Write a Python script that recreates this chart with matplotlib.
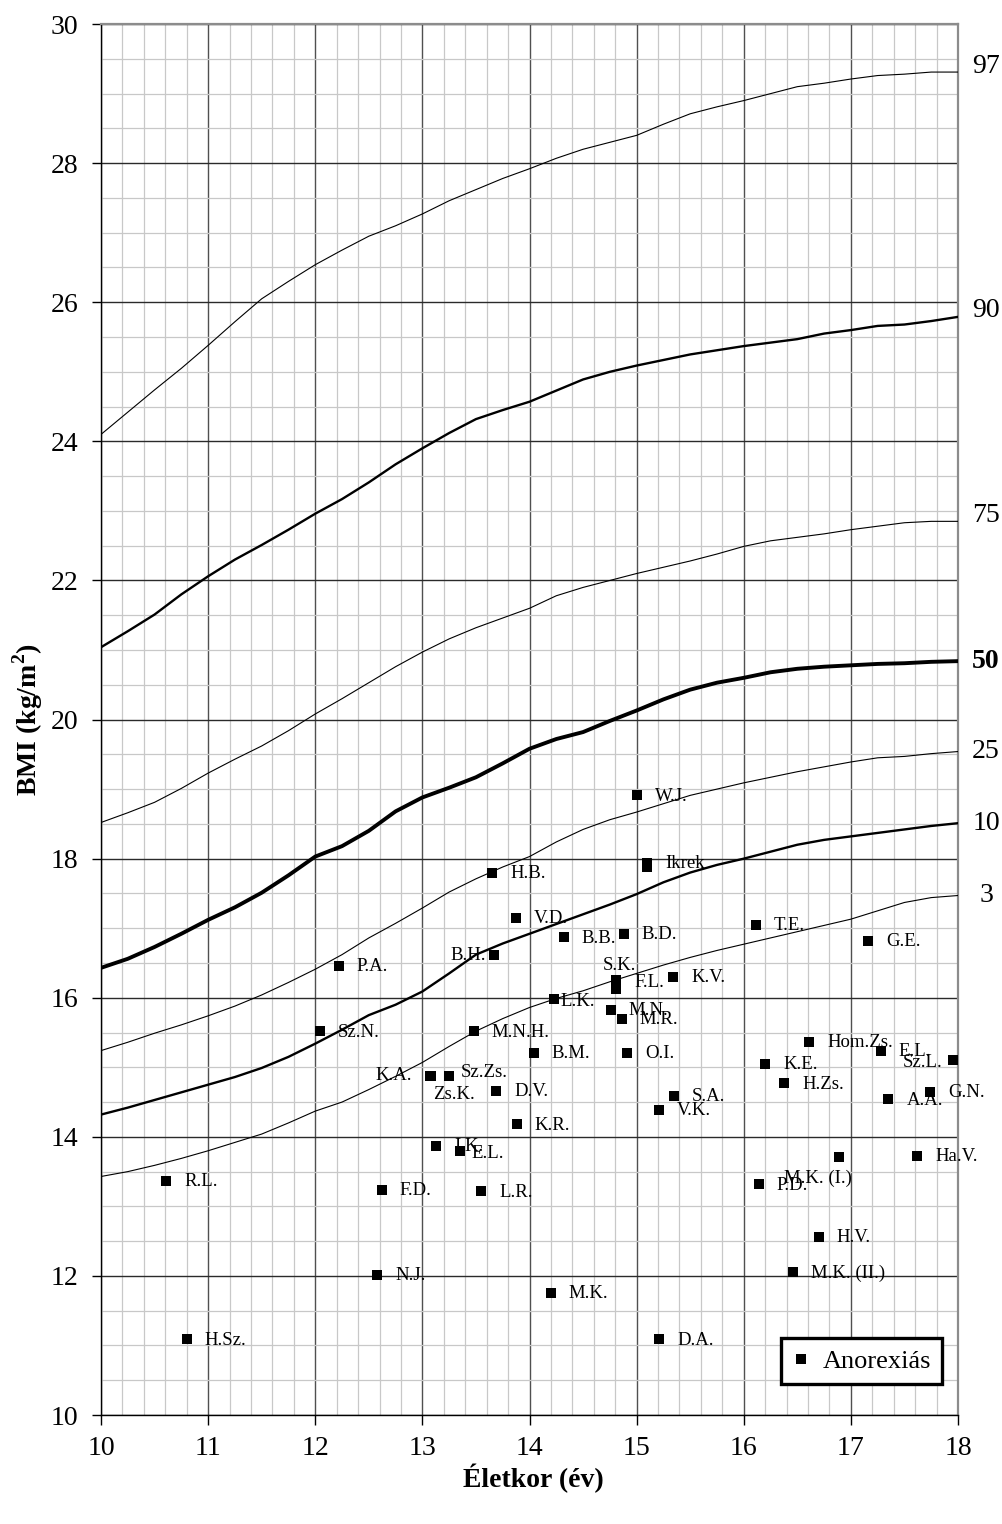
import numpy as np
import matplotlib
matplotlib.use("Agg")
import matplotlib.pyplot as plt
from matplotlib.ticker import MultipleLocator

plt.rcParams['font.family'] = ['Liberation Serif', 'DejaVu Serif']
plt.rcParams['mathtext.fontset'] = 'custom'
plt.rcParams['mathtext.rm'] = 'Liberation Serif:bold'

# age grid of the reference percentile curves (years)
ages = [10.0, 10.25, 10.5, 10.75, 11.0, 11.25, 11.5, 11.75, 12.0, 12.25, 12.5,
        12.75, 13.0, 13.25, 13.5, 13.75, 14.0, 14.25, 14.5, 14.75, 15.0,
        15.25, 15.5, 15.75, 16.0, 16.25, 16.5, 16.75, 17.0, 17.25, 17.5,
        17.75, 18.0]

p97 = [24.10, 24.42, 24.74, 25.05, 25.38, 25.72, 26.05, 26.30, 26.54, 26.75,
       26.95, 27.10, 27.27, 27.46, 27.62, 27.78, 27.92, 28.07, 28.20, 28.30,
       28.40, 28.56, 28.71, 28.81, 28.90, 29.00, 29.10, 29.15, 29.21, 29.26,
       29.28, 29.31, 29.31]
p90 = [21.04, 21.27, 21.51, 21.80, 22.06, 22.30, 22.51, 22.73, 22.96, 23.17,
       23.41, 23.67, 23.90, 24.12, 24.32, 24.45, 24.57, 24.73, 24.89, 25.00,
       25.09, 25.17, 25.25, 25.31, 25.37, 25.42, 25.47, 25.55, 25.60, 25.66,
       25.68, 25.73, 25.79]
p75 = [18.52, 18.66, 18.81, 19.01, 19.23, 19.43, 19.62, 19.84, 20.08, 20.30,
       20.53, 20.76, 20.97, 21.16, 21.32, 21.46, 21.60, 21.78, 21.90, 22.00,
       22.10, 22.19, 22.28, 22.38, 22.49, 22.57, 22.62, 22.67, 22.73, 22.78,
       22.83, 22.85, 22.85]
p50 = [16.43, 16.56, 16.73, 16.92, 17.12, 17.30, 17.51, 17.76, 18.03, 18.18,
       18.40, 18.68, 18.88, 19.02, 19.17, 19.37, 19.58, 19.72, 19.82, 19.98,
       20.13, 20.29, 20.43, 20.53, 20.60, 20.68, 20.73, 20.76, 20.78, 20.80,
       20.81, 20.83, 20.84]
p25 = [15.24, 15.36, 15.49, 15.61, 15.74, 15.88, 16.04, 16.22, 16.41, 16.62,
       16.86, 17.07, 17.29, 17.52, 17.71, 17.88, 18.03, 18.24, 18.42, 18.56,
       18.67, 18.79, 18.91, 19.00, 19.09, 19.17, 19.25, 19.32, 19.39, 19.45,
       19.47, 19.51, 19.54]
p10 = [14.32, 14.42, 14.53, 14.64, 14.75, 14.86, 14.99, 15.15, 15.34, 15.54,
       15.75, 15.90, 16.09, 16.35, 16.62, 16.78, 16.92, 17.06, 17.20, 17.34,
       17.49, 17.66, 17.80, 17.91, 18.00, 18.10, 18.20, 18.27, 18.32, 18.37,
       18.42, 18.47, 18.51]
p3 = [13.43, 13.50, 13.59, 13.69, 13.80, 13.92, 14.04, 14.20, 14.37, 14.50,
      14.68, 14.87, 15.07, 15.30, 15.52, 15.70, 15.86, 15.99, 16.10, 16.23,
      16.35, 16.47, 16.58, 16.68, 16.77, 16.86, 16.95, 17.04, 17.13, 17.25,
      17.37, 17.44, 17.47]

pct_labels = ['97', '90', '75', '50', '25', '10', '3']

# anorexia patients: initials, age (years), BMI
names = ["R.L.", "H.Sz.", "P.A.", "Sz.N.", "F.D.", "N.J.", "K.A.", "Zs.K.",
         "Sz.Zs.", "I.K.", "E.L.", "L.R.", "H.B.", "B.H.", "M.N.H.", "D.V.",
         "V.D.", "K.R.", "B.M.", "M.K.", "L.K.", "B.B.", "M.N.", "S.K.",
         "F.L.", "M.R.", "B.D.", "O.I.", "W.J.", "Ikrek", "Ikrek", "V.K.",
         "D.A.", "K.V.", "S.A.", "T.E.", "P.D.", "K.E.", "H.Zs.", "M.K. (II.)",
         "Hom.Zs.", "H.V.", "M.K. (I.)", "G.E.", "E.L.", "A.A.", "Ha.V.",
         "G.N.", "Sz.L."]
pt_age = [10.61, 10.80, 12.22, 12.04, 12.62, 12.58, 13.07, 13.08, 13.25,
          13.13, 13.35, 13.55, 13.65, 13.67, 13.48, 13.69, 13.87, 13.88,
          14.04, 14.20, 14.23, 14.32, 14.76, 14.81, 14.81, 14.86, 14.88,
          14.91, 15.00, 15.10, 15.10, 15.21, 15.21, 15.34, 15.35, 16.11,
          16.14, 16.20, 16.38, 16.46, 16.61, 16.70, 16.89, 17.16, 17.28,
          17.35, 17.62, 17.74, 17.95]
pt_bmi = [13.37, 11.09, 16.46, 15.52, 13.24, 12.02, 14.87, 14.87, 14.87,
          13.87, 13.79, 13.22, 17.80, 16.61, 15.52, 14.66, 17.15, 14.18,
          15.21, 11.76, 15.98, 16.87, 15.83, 16.25, 16.13, 15.70, 16.92,
          15.21, 18.91, 17.94, 17.88, 14.39, 11.09, 16.30, 14.59, 17.05,
          13.32, 15.05, 14.77, 12.05, 15.37, 12.56, 13.71, 16.82, 15.24,
          14.54, 13.73, 14.65, 15.11]

# label placement in pixels (dx, dy, ha); default is right of the marker
PX = 0.72
default_off = (18, -1, 'left')
label_off = {
    ("K.A.", 13.07): (-18, 1, 'right'),
    ("B.H.", 13.67): (-8, 0, 'right'),
    ("Zs.K.", 13.08): (2, -18, 'left'),
    ("Sz.Zs.", 13.25): (12, 4, 'left'),
    ("S.K.", 14.81): (-14, 15, 'left'),
    ("F.L.", 14.81): (18, 6, 'left'),
    ("L.K.", 14.23): (6, -2, 'left'),
    ("E.L.", 13.35): (12, -2, 'left'),
    ("Sz.L.", 17.95): (-10, -3, 'right'),
    ("M.K. (I.)", 16.89): (-55, -21, 'left'),
}

fig = plt.figure(figsize=(10.02, 15.24), dpi=100)
ax = fig.add_axes([0.1008, 0.0715, 0.8553, 0.9127])

ax.set_xlim(10, 18)
ax.set_ylim(10, 30)
ax.xaxis.set_major_locator(MultipleLocator(1))
ax.xaxis.set_minor_locator(MultipleLocator(0.2))
ax.yaxis.set_major_locator(MultipleLocator(2))
ax.yaxis.set_minor_locator(MultipleLocator(0.5))
ax.set_axisbelow(True)
ax.grid(which='minor', color='#c8c8c8', lw=0.9)
ax.xaxis.grid(which='major', color='#505050', lw=1.0)
ax.yaxis.grid(which='major', color='#2a2a2a', lw=1.0)

ax.tick_params(which='minor', length=0)
ax.tick_params(axis='y', which='major', direction='out', length=6.5, width=1,
               labelsize=20, pad=10)
ax.tick_params(axis='x', which='major', direction='out', length=7, width=1,
               labelsize=20, pad=8)
for s in ('top', 'right'):
    ax.spines[s].set_color('#8c8c8c')
    ax.spines[s].set_linewidth(1.6)
for s in ('left', 'bottom'):
    ax.spines[s].set_color('black')
    ax.spines[s].set_linewidth(1.0)

curves = [p97, p90, p75, p50, p25, p10, p3]
widths = [0.8, 1.7, 0.8, 2.8, 0.8, 1.7, 0.8]
label_dy = [6, 6, 6, 0, 0, 0, 0]
for vals, lw, lab, dy in zip(curves, widths, pct_labels, label_dy):
    ax.plot(ages, vals, color='black', lw=lw, solid_joinstyle='round', zorder=3)
    ax.annotate(lab, xy=(18, vals[-1]), xytext=(28 * PX, dy * PX),
                textcoords='offset points', ha='center', va='center',
                fontsize=20, fontweight='bold' if lab == '50' else 'normal',
                annotation_clip=False)

ax.plot(pt_age, pt_bmi, ls='none', marker='s', ms=7.5, mew=0, color='black',
        label='Anorexiás', zorder=5)

drawn = set()
for n, a, b in zip(names, pt_age, pt_bmi):
    if (n, a) in drawn:
        continue
    drawn.add((n, a))
    dx, dy, ha = label_off.get((n, a), default_off)
    ax.annotate(n, xy=(a, b), xytext=(dx * PX, dy * PX),
                textcoords='offset points', ha=ha, va='center',
                fontsize=13.5, annotation_clip=False, zorder=6)

leg = ax.legend(loc='lower right', bbox_to_anchor=(0.9813, 0.0223),
                borderaxespad=0, fontsize=19, numpoints=1, handlelength=0.7,
                handletextpad=0.45, borderpad=0.42, fancybox=False,
                framealpha=1)
leg.get_frame().set_edgecolor('black')
leg.get_frame().set_linewidth(2.4)

fig.text(28 / 1002, 1 - 720 / 1524, r'BMI (kg/m$^{2}$)', rotation=90,
         ha='center', va='center', fontsize=20, fontweight='bold')
fig.text(533 / 1002, 1 - 1478 / 1524, 'Életkor (év)', ha='center',
         va='center', fontsize=20, fontweight='bold')

fig.savefig('out.png', dpi=100)
